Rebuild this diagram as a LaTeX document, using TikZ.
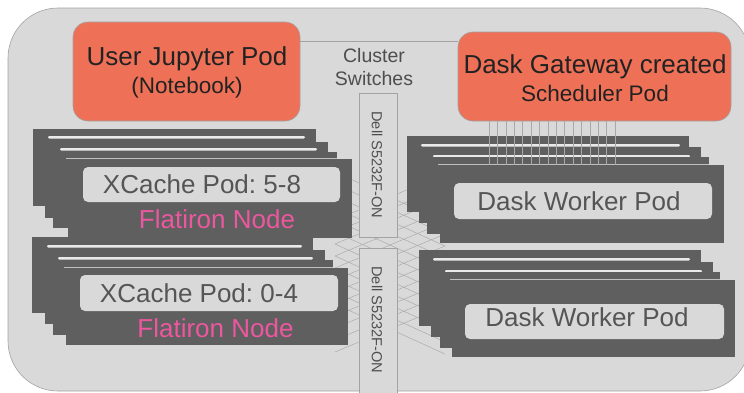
\documentclass[tikz,border=0pt]{standalone}
\usepackage{fontspec}
\setmainfont{Liberation Sans}
\frenchspacing
\definecolor{bg}{HTML}{D9D9D9}
\definecolor{bgline}{HTML}{A3A3A3}
\definecolor{orng}{HTML}{EE7157}
\definecolor{dk}{HTML}{5F5F5F}
\definecolor{stripc}{HTML}{EAEAEA}
\definecolor{pinkc}{HTML}{EC579F}
\definecolor{txtg}{HTML}{555555}
\definecolor{meshc}{HTML}{A8A8A8}
\definecolor{darktxt}{HTML}{222222}
\tikzset{
  podbox/.style={draw=bgline, line width=0.6pt, fill=orng, rounded corners=15pt, inner sep=0pt},
  switchbox/.style={draw=bgline, line width=0.6pt, fill=bg, inner sep=0pt},
  bigtxt/.style={anchor=base, inner sep=0pt, font=\fontsize{26}{30}\selectfont},
  midtxt/.style={anchor=base, inner sep=0pt, font=\fontsize{22.5}{27}\selectfont},
  smalltxt/.style={anchor=base, inner sep=0pt, font=\fontsize{19.5}{23}\selectfont, text=darktxt!80},
  delltxt/.style={rotate=-90, inner sep=0pt, font=\fontsize{14.6}{17}\selectfont, text=darktxt!80},
  meshline/.style={draw=meshc, line width=0.45pt},
  schedline/.style={draw=meshc, line width=0.5pt},
  linkline/.style={draw=bgline, line width=0.6pt},
  innerbox/.style={fill=bg, draw=none, rounded corners=5pt},
  stripbar/.style={fill=stripc, rounded corners=1.2pt},
}
\newcommand\dkrect[4]{\fill[dk] (#1,#2) rectangle (#3,#4);}
\newcommand\stripat[3]{\fill[stripbar] (#1,#2) rectangle (#3,#2+2.6);}
\begin{document}
\begin{tikzpicture}[x=1pt,y=-1pt]
\useasboundingbox (0,0) rectangle (744,392);
\clip (0,0) rectangle (744,392);
% background
\path[fill=bg, draw=bgline, line width=0.6pt, rounded corners=50pt] (8,8) rectangle (750,391);

% mesh of cables between switches and node stacks
\foreach \i in {0,...,15} {
  \coordinate (L\i) at (335,{172+12*\i});
  \coordinate (R\i) at (445,{174+12*\i});
}
\foreach \i in {0,...,11} {
  \pgfmathtruncatemacro{\j}{\i+4}
  \draw[meshline] (L\i) -- (R\j);
  \draw[meshline] (L\j) -- (R\i);
}

% switches
\node[switchbox, minimum width=38pt, minimum height=144pt] (sw1) at (378,165) {};
\node[switchbox, minimum width=38pt, minimum height=160pt] (sw2) at (378,328) {};
\node[delltxt] (sw1t) at (377,165) {Dell S5232F-ON};
\node[delltxt] (sw2t) at (377,320) {Dell S5232F-ON};

% top-left stack
\dkrect{33}{129}{316}{206}
\stripat{48}{136}{305}
\dkrect{45}{142}{328}{218}
\stripat{60}{148}{317}
\dkrect{53}{152}{337}{228}
\fill[stripc!70!dk] (66,158) rectangle (337,159);
\dkrect{68}{159}{352}{238}
\fill[innerbox] (83,167) rectangle (340,202);
\node[bigtxt, text=txtg] (xc1) at (202,193) {XCache Pod: 5-8};
\node[bigtxt, text=pinkc] (fn1) at (217,228) {Flatiron Node};

% bottom-left stack
\dkrect{32}{237}{313}{313}
\stripat{47}{245}{302}
\dkrect{45}{250}{325}{324}
\stripat{58}{257}{313}
\dkrect{53}{260}{333}{335}
\fill[stripc!70!dk] (64,267) rectangle (333,268);
\dkrect{66}{268}{348}{345}
\fill[innerbox] (80,275) rectangle (338,311);
\node[bigtxt, text=txtg] (xc2) at (199,302) {XCache Pod: 0-4};
\node[bigtxt, text=pinkc] (fn2) at (215.5,337) {Flatiron Node};

% top-right stack
\dkrect{407}{136}{689}{212}
\stripat{421}{144}{680}
\dkrect{419}{147}{701}{223}
\stripat{433}{155}{690}
\dkrect{427}{157}{709}{234}
\fill[stripc!70!dk] (438,164) rectangle (709,165);
\dkrect{440}{165}{724}{243}
\fill[innerbox] (454,183) rectangle (712,219);
\node[bigtxt, text=txtg] (dw1) at (579,210) {Dask Worker Pod};

% bottom-right stack
\dkrect{419}{250}{701}{326}
\stripat{433}{258}{690}
\dkrect{431}{262}{713}{337}
\stripat{445}{270}{702}
\dkrect{440}{272}{720}{348}
\fill[stripc!70!dk] (450,279) rectangle (720,280);
\dkrect{452}{280}{735}{357}
\fill[innerbox] (465,304) rectangle (724,339);
\node[bigtxt, text=txtg] (dw2) at (587,326) {Dask Worker Pod};

% pods
\node[podbox, minimum width=227pt, minimum height=99pt] (jup) at (186.5,71.5) {};
\node[podbox, minimum width=273pt, minimum height=89pt] (gw) at (594.5,76.5) {};
\node[bigtxt, text=darktxt] (jupt1) at (187,65) {User Jupyter Pod};
\node[midtxt, text=darktxt] (jupt2) at (187,93) {(Notebook)};
\node[bigtxt, text=darktxt] (gwt1) at (595,73) {Dask Gateway created};
\node[midtxt, text=darktxt] (gwt2) at (595,101.5) {Scheduler Pod};

% link between pods
\coordinate (lk) at (0,41);
\draw[linkline] (jup.east |- lk) -- (gw.west |- lk);

% cluster switches label
\node[smalltxt] (cs1) at (374,62) {Cluster};
\node[smalltxt] (cs2) at (374,85) {Switches};

% scheduler to worker lines
\foreach \k in {0,...,15} {
  \coordinate (S\k) at ({489+8.4*\k},121);
  \coordinate (T\k) at ({489+8.4*\k},165);
  \draw[schedline] (S\k) -- (T\k);
}
\end{tikzpicture}
\end{document}
